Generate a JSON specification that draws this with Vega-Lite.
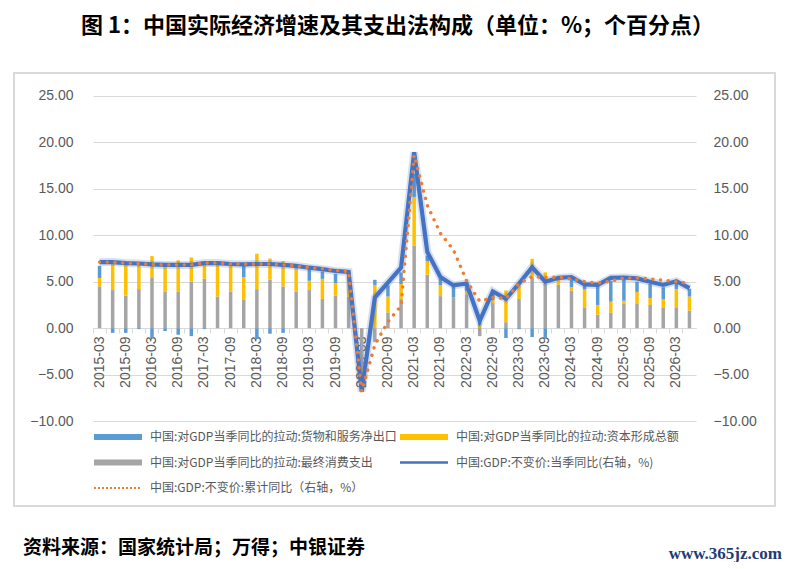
{
  "$schema": "https://vega.github.io/schema/vega-lite/v6.json",
  "padding": {"left": 13, "right": 6, "top": 15, "bottom": 0},
  "background": "#ffffff",
  "title": {
    "text": "图 1：中国实际经济增速及其支出法构成（单位：%；个百分点）",
    "font": "Noto Sans CJK SC",
    "fontSize": 22,
    "fontWeight": "bold",
    "color": "#000000",
    "anchor": "middle",
    "offset": 34
  },
  "vconcat": [
    {
      "title": {
        "text": "www.365jz.com",
        "orient": "bottom",
        "anchor": "end",
        "font": "Liberation Serif",
        "fontSize": 17,
        "fontWeight": "bold",
        "color": "#1f3b73",
        "offset": -13,
        "dx": 6
      },
      "vconcat": [
        {
          "title": {
            "text": "资料来源：国家统计局；万得；中银证券",
            "orient": "bottom",
            "anchor": "start",
            "font": "Noto Sans CJK SC",
            "fontSize": 19,
            "fontWeight": "bold",
            "color": "#000000",
            "offset": 33,
            "dx": 9
          },
          "width": 761,
          "height": 433,
          "data": {
            "values": [
              {"q": "2015-03", "consumption": 4.5, "investment": 0.9, "netexport": 1.3, "gdp_q": 7.1, "gdp_ytd": 7.1},
              {"q": "2015-06", "consumption": 4.1, "investment": 2.8, "netexport": -0.5, "gdp_q": 7.1, "gdp_ytd": 7.1},
              {"q": "2015-09", "consumption": 3.5, "investment": 3.3, "netexport": -0.5, "gdp_q": 7.0, "gdp_ytd": 7.0},
              {"q": "2015-12", "consumption": 4.2, "investment": 2.55, "netexport": -0.1, "gdp_q": 6.95, "gdp_ytd": 6.95},
              {"q": "2016-03", "consumption": 5.4, "investment": 2.35, "netexport": -1.05, "gdp_q": 6.85, "gdp_ytd": 6.85},
              {"q": "2016-06", "consumption": 3.95, "investment": 2.7, "netexport": -0.3, "gdp_q": 6.8, "gdp_ytd": 6.8},
              {"q": "2016-09", "consumption": 3.95, "investment": 3.35, "netexport": -0.7, "gdp_q": 6.8, "gdp_ytd": 6.8},
              {"q": "2016-12", "consumption": 5.0, "investment": 2.6, "netexport": -0.85, "gdp_q": 6.8, "gdp_ytd": 6.8},
              {"q": "2017-03", "consumption": 5.3, "investment": 1.5, "netexport": -0.1, "gdp_q": 7.0, "gdp_ytd": 7.0},
              {"q": "2017-06", "consumption": 3.4, "investment": 3.4, "netexport": 0.2, "gdp_q": 7.0, "gdp_ytd": 7.0},
              {"q": "2017-09", "consumption": 3.95, "investment": 2.8, "netexport": 0.1, "gdp_q": 6.9, "gdp_ytd": 6.9},
              {"q": "2017-12", "consumption": 3.1, "investment": 2.4, "netexport": 1.2, "gdp_q": 6.85, "gdp_ytd": 6.9},
              {"q": "2018-03", "consumption": 4.2, "investment": 3.8, "netexport": -1.15, "gdp_q": 6.9, "gdp_ytd": 6.9},
              {"q": "2018-06", "consumption": 5.2, "investment": 2.3, "netexport": -0.6, "gdp_q": 6.9, "gdp_ytd": 6.9},
              {"q": "2018-09", "consumption": 4.5, "investment": 2.7, "netexport": -0.5, "gdp_q": 6.8, "gdp_ytd": 6.8},
              {"q": "2018-12", "consumption": 3.95, "investment": 2.45, "netexport": 0.2, "gdp_q": 6.7, "gdp_ytd": 6.7},
              {"q": "2019-03", "consumption": 4.1, "investment": 1.0, "netexport": 1.3, "gdp_q": 6.5, "gdp_ytd": 6.5},
              {"q": "2019-06", "consumption": 3.15, "investment": 2.15, "netexport": 0.8, "gdp_q": 6.35, "gdp_ytd": 6.4},
              {"q": "2019-09", "consumption": 3.5, "investment": 1.35, "netexport": 1.0, "gdp_q": 6.15, "gdp_ytd": 6.2},
              {"q": "2019-12", "consumption": 3.4, "investment": 2.25, "netexport": 0.35, "gdp_q": 6.05, "gdp_ytd": 6.1},
              {"q": "2020-03", "consumption": -4.4, "investment": -1.5, "netexport": -0.9, "gdp_q": -6.8, "gdp_ytd": -6.8},
              {"q": "2020-06", "consumption": -1.5, "investment": 4.65, "netexport": 0.55, "gdp_q": 3.3, "gdp_ytd": -1.8},
              {"q": "2020-09", "consumption": 1.7, "investment": 1.7, "netexport": 1.2, "gdp_q": 4.9, "gdp_ytd": 0.7},
              {"q": "2020-12", "consumption": 3.15, "investment": 1.6, "netexport": 1.25, "gdp_q": 6.5, "gdp_ytd": 2.4},
              {"q": "2021-03", "consumption": 8.9, "investment": 5.2, "netexport": 2.5, "gdp_q": 18.9, "gdp_ytd": 18.6},
              {"q": "2021-06", "consumption": 5.75, "investment": 1.45, "netexport": 0.6, "gdp_q": 8.2, "gdp_ytd": 13.2},
              {"q": "2021-09", "consumption": 3.45, "investment": 1.15, "netexport": 0.7, "gdp_q": 5.5, "gdp_ytd": 10.2},
              {"q": "2021-12", "consumption": 3.3, "investment": 0.0, "netexport": 1.2, "gdp_q": 4.6, "gdp_ytd": 8.4},
              {"q": "2022-03", "consumption": 3.65, "investment": 0.3, "netexport": 0.65, "gdp_q": 4.8, "gdp_ytd": 5.1},
              {"q": "2022-06", "consumption": -0.85, "investment": 0.3, "netexport": 0.45, "gdp_q": 0.8, "gdp_ytd": 2.9},
              {"q": "2022-09", "consumption": 2.7, "investment": 0.3, "netexport": 0.9, "gdp_q": 3.95, "gdp_ytd": 3.3},
              {"q": "2022-12", "consumption": 0.65, "investment": 3.4, "netexport": -1.05, "gdp_q": 3.15, "gdp_ytd": 3.2},
              {"q": "2023-03", "consumption": 3.15, "investment": 1.45, "netexport": -0.1, "gdp_q": 4.8, "gdp_ytd": 4.8},
              {"q": "2023-06", "consumption": 5.4, "investment": 2.05, "netexport": -0.95, "gdp_q": 6.55, "gdp_ytd": 5.55},
              {"q": "2023-09", "consumption": 4.85, "investment": 1.15, "netexport": -1.05, "gdp_q": 5.0, "gdp_ytd": 5.45},
              {"q": "2023-12", "consumption": 4.65, "investment": 0.75, "netexport": 0.0, "gdp_q": 5.4, "gdp_ytd": 5.5},
              {"q": "2024-03", "consumption": 4.05, "investment": 0.35, "netexport": 0.85, "gdp_q": 5.5, "gdp_ytd": 5.3},
              {"q": "2024-06", "consumption": 2.25, "investment": 1.9, "netexport": 0.6, "gdp_q": 4.7, "gdp_ytd": 5.0},
              {"q": "2024-09", "consumption": 1.45, "investment": 1.05, "netexport": 2.1, "gdp_q": 4.65, "gdp_ytd": 4.85},
              {"q": "2024-12", "consumption": 1.65, "investment": 1.2, "netexport": 2.25, "gdp_q": 5.4, "gdp_ytd": 5.05},
              {"q": "2025-03", "consumption": 2.6, "investment": 0.35, "netexport": 2.45, "gdp_q": 5.45, "gdp_ytd": 5.4},
              {"q": "2025-06", "consumption": 2.6, "investment": 1.3, "netexport": 1.1, "gdp_q": 5.35, "gdp_ytd": 5.4},
              {"q": "2025-09", "consumption": 2.5, "investment": 0.75, "netexport": 1.5, "gdp_q": 5.0, "gdp_ytd": 5.3},
              {"q": "2025-12", "consumption": 2.25, "investment": 0.85, "netexport": 1.3, "gdp_q": 4.65, "gdp_ytd": 5.15},
              {"q": "2026-03", "consumption": 2.25, "investment": 1.95, "netexport": 0.75, "gdp_q": 5.05, "gdp_ytd": 5.0},
              {"q": "2026-06", "consumption": 1.9, "investment": 1.5, "netexport": 0.85, "gdp_q": 4.3, "gdp_ytd": 4.8}
            ]
          },
          "encoding": {
            "x": {
              "field": "q",
              "type": "ordinal",
              "sort": null,
              "scale": {"range": [79, 682], "paddingInner": 0, "paddingOuter": 0},
              "axis": {
                "title": null,
                "offset": -178,
                "bandPosition": 0,
                "domainColor": "#d9d9d9",
                "tickColor": "#d9d9d9",
                "tickSize": 5,
                "labelAngle": 270,
                "labelPadding": 3,
                "labelFont": "Liberation Sans",
                "labelFontSize": 14,
                "labelColor": "#595959",
                "labelOverlap": false,
                "labelBound": false,
                "labelExpr": "indexof(datum.label, '-03') > 0 || indexof(datum.label, '-09') > 0 ? datum.label : ''"
              }
            }
          },
          "layer": [
            {
              "transform": [
                {"fold": ["consumption", "investment", "netexport"], "as": ["s", "v"]}
              ],
              "mark": {"type": "bar", "size": 3.5},
              "encoding": {
                "y": {
                  "field": "v",
                  "type": "quantitative",
                  "stack": "zero",
                  "scale": {"domain": [-10, 25], "range": [348.3, 22.5], "nice": false, "zero": false},
                  "axis": {
                    "title": null,
                    "orient": "left",
                    "offset": -61,
                    "values": [-10, -5, 0, 5, 10, 15, 20, 25],
                    "format": ".2f",
                    "domain": false,
                    "ticks": false,
                    "tickSize": 0,
                    "labelPadding": 2,
                    "labelFont": "Liberation Sans",
                    "labelFontSize": 14,
                    "labelColor": "#595959",
                    "grid": true,
                    "gridColor": "#d9d9d9",
                    "gridWidth": 1
                  }
                },
                "order": {"field": "s", "sort": "ascending"},
                "color": {
                  "field": "s",
                  "type": "nominal",
                  "scale": {
                    "domain": ["netexport", "investment", "consumption", "gdp_q", "gdp_ytd"],
                    "range": ["#5b9bd5", "#ffc000", "#a5a5a5", "#4472c4", "#ed7d31"]
                  },
                  "legend": {
                    "labelExpr": "datum.label == 'netexport' ? '中国:对GDP当季同比的拉动:货物和服务净出口' : datum.label == 'investment' ? '中国:对GDP当季同比的拉动:资本形成总额' : datum.label == 'consumption' ? '中国:对GDP当季同比的拉动:最终消费支出' : datum.label == 'gdp_q' ? '中国:GDP:不变价:当季同比(右轴，%)' : '中国:GDP:不变价:累计同比（右轴，%）'"
                  }
                },
                "strokeWidth": {
                  "field": "s",
                  "type": "ordinal",
                  "scale": {
                    "type": "ordinal",
                    "domain": ["netexport", "investment", "consumption", "gdp_q", "gdp_ytd"],
                    "range": [6, 6, 6, 2.5, 2]
                  }
                },
                "strokeDash": {
                  "field": "s",
                  "type": "nominal",
                  "scale": {
                    "domain": ["netexport", "investment", "consumption", "gdp_q", "gdp_ytd"],
                    "range": [[1, 0], [1, 0], [1, 0], [1, 0], [2, 2]]
                  }
                }
              }
            },
            {
              "encoding": {
                "y": {
                  "type": "quantitative",
                  "scale": {"domain": [-10, 25], "range": [348.3, 22.5], "nice": false, "zero": false},
                  "axis": {
                    "title": null,
                    "orient": "right",
                    "offset": -64,
                    "values": [-10, -5, 0, 5, 10, 15, 20, 25],
                    "format": ".2f",
                    "domain": false,
                    "ticks": false,
                    "tickSize": 0,
                    "labelPadding": 2,
                    "labelFont": "Liberation Sans",
                    "labelFontSize": 14,
                    "labelColor": "#595959",
                    "grid": false
                  }
                }
              },
              "layer": [
                {
                  "mark": {"type": "line", "color": "#4472c4", "strokeWidth": 8, "opacity": 0.22},
                  "encoding": {"y": {"field": "gdp_q"}}
                },
                {
                  "mark": {"type": "line", "strokeWidth": 4.2},
                  "encoding": {
                    "y": {"field": "gdp_q"},
                    "color": {"datum": "gdp_q", "type": "nominal"}
                  }
                },
                {
                  "mark": {"type": "line", "strokeWidth": 3.4, "strokeCap": "round", "strokeDash": [0.1, 7.6]},
                  "encoding": {
                    "y": {"field": "gdp_ytd"},
                    "color": {"datum": "gdp_ytd", "type": "nominal"}
                  }
                }
              ]
            }
          ],
          "resolve": {"scale": {"y": "independent"}}
        }
      ]
    }
  ],
  "config": {
    "view": {"stroke": "#d9d9d9", "strokeWidth": 2},
    "concat": {"spacing": 0},
    "legend": {
      "orient": "none",
      "direction": "horizontal",
      "legendX": 77,
      "legendY": 356,
      "columns": 2,
      "title": null,
      "symbolType": "stroke",
      "symbolSize": 2304,
      "clipHeight": 16,
      "rowPadding": 9.5,
      "columnPadding": -53,
      "labelOffset": 5,
      "labelFont": "Noto Sans CJK SC",
      "labelFontSize": 12,
      "labelColor": "#595959",
      "labelLimit": 400
    }
  }
}
